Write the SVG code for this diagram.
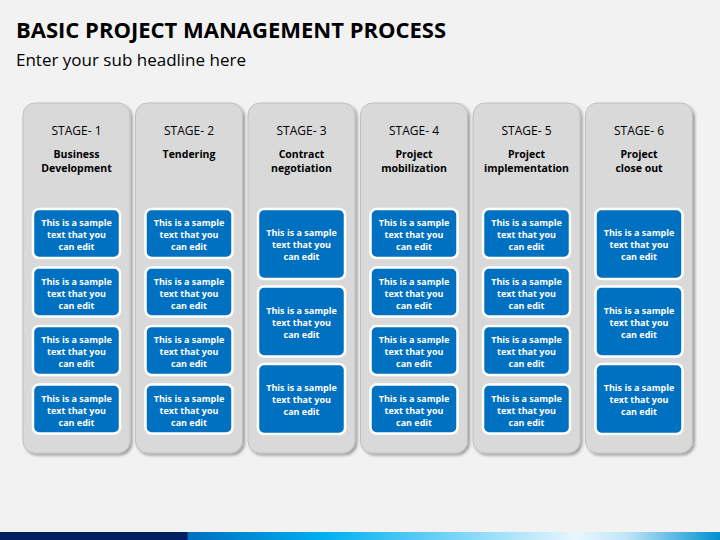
<svg xmlns="http://www.w3.org/2000/svg" width="720" height="540" viewBox="0 0 720 540">
<defs>
<style>
.col{fill:#d9d9d9;stroke:#bfbfbf;stroke-width:1}
.box{fill:#0070c0;stroke:#fff;stroke-width:2.5}
.bt{font-family:"Open Sans","Liberation Sans",sans-serif;font-size:9px;font-weight:bold;fill:#fff;text-anchor:middle}
.st{font-family:"Open Sans","Liberation Sans",sans-serif;font-size:12px;fill:#000;text-anchor:middle}
.sn{font-family:"Open Sans","Liberation Sans",sans-serif;font-size:10.5px;font-weight:bold;fill:#000;text-anchor:middle}
</style>
<filter id="sh" x="-10%" y="-5%" width="125%" height="115%"><feDropShadow dx="2" dy="2" stdDeviation="1.5" flood-color="#000" flood-opacity="0.35"/></filter>
<linearGradient id="bar" x1="0" x2="1" y1="0" y2="0">
<stop offset="0" stop-color="#002060"/><stop offset="0.26" stop-color="#002060"/><stop offset="0.261" stop-color="#0070c0"/><stop offset="0.45" stop-color="#00b0f0"/><stop offset="0.8" stop-color="#e8f6fd"/><stop offset="0.87" stop-color="#bfe6f8"/><stop offset="1" stop-color="#0090d0"/>
</linearGradient>
</defs>
<rect width="720" height="540" fill="#f2f2f2"/>
<text x="16" y="38" font-family="'Open Sans','Liberation Sans',sans-serif" font-size="22" font-weight="bold" fill="#000">BASIC PROJECT MANAGEMENT PROCESS</text>
<text x="16" y="66" font-family="'Open Sans','Liberation Sans',sans-serif" font-size="17" fill="#000">Enter your sub headline here</text>
<rect x="0" y="532" width="720" height="8" fill="url(#bar)"/>
<g id="connectors"/>
<g id="stage1">
<rect class="col" x="23" y="103" width="107" height="350" rx="12" filter="url(#sh)"/>
<text class="st" x="76.5" y="135">STAGE- 1</text>
<text class="sn" x="76.5" y="158">Business</text><text class="sn" x="76.5" y="172">Development</text>
<g><rect class="box" x="33" y="209" width="87" height="49" rx="6"/><text class="bt" x="76.5" y="226">This is a sample</text><text class="bt" x="76.5" y="238">text that you</text><text class="bt" x="76.5" y="250">can edit</text></g>
<g><rect class="box" x="33" y="267.5" width="87" height="49" rx="6"/><text class="bt" x="76.5" y="284.5">This is a sample</text><text class="bt" x="76.5" y="296.5">text that you</text><text class="bt" x="76.5" y="308.5">can edit</text></g>
<g><rect class="box" x="33" y="326" width="87" height="49" rx="6"/><text class="bt" x="76.5" y="343">This is a sample</text><text class="bt" x="76.5" y="355">text that you</text><text class="bt" x="76.5" y="367">can edit</text></g>
<g><rect class="box" x="33" y="384.5" width="87" height="49" rx="6"/><text class="bt" x="76.5" y="401.5">This is a sample</text><text class="bt" x="76.5" y="413.5">text that you</text><text class="bt" x="76.5" y="425.5">can edit</text></g>
</g>
<g id="stage2">
<rect class="col" x="135.5" y="103" width="107" height="350" rx="12" filter="url(#sh)"/>
<text class="st" x="189" y="135">STAGE- 2</text>
<text class="sn" x="189" y="158">Tendering</text>
<g><rect class="box" x="145.5" y="209" width="87" height="49" rx="6"/><text class="bt" x="189" y="226">This is a sample</text><text class="bt" x="189" y="238">text that you</text><text class="bt" x="189" y="250">can edit</text></g>
<g><rect class="box" x="145.5" y="267.5" width="87" height="49" rx="6"/><text class="bt" x="189" y="284.5">This is a sample</text><text class="bt" x="189" y="296.5">text that you</text><text class="bt" x="189" y="308.5">can edit</text></g>
<g><rect class="box" x="145.5" y="326" width="87" height="49" rx="6"/><text class="bt" x="189" y="343">This is a sample</text><text class="bt" x="189" y="355">text that you</text><text class="bt" x="189" y="367">can edit</text></g>
<g><rect class="box" x="145.5" y="384.5" width="87" height="49" rx="6"/><text class="bt" x="189" y="401.5">This is a sample</text><text class="bt" x="189" y="413.5">text that you</text><text class="bt" x="189" y="425.5">can edit</text></g>
</g>
<g id="stage3">
<rect class="col" x="248" y="103" width="107" height="350" rx="12" filter="url(#sh)"/>
<text class="st" x="301.5" y="135">STAGE- 3</text>
<text class="sn" x="301.5" y="158">Contract</text><text class="sn" x="301.5" y="172">negotiation</text>
<g><rect class="box" x="258" y="209" width="87" height="70" rx="6"/><text class="bt" x="301.5" y="236">This is a sample</text><text class="bt" x="301.5" y="248">text that you</text><text class="bt" x="301.5" y="260">can edit</text></g>
<g><rect class="box" x="258" y="286.5" width="87" height="70" rx="6"/><text class="bt" x="301.5" y="313.5">This is a sample</text><text class="bt" x="301.5" y="325.5">text that you</text><text class="bt" x="301.5" y="337.5">can edit</text></g>
<g><rect class="box" x="258" y="364" width="87" height="70" rx="6"/><text class="bt" x="301.5" y="391">This is a sample</text><text class="bt" x="301.5" y="403">text that you</text><text class="bt" x="301.5" y="415">can edit</text></g>
</g>
<g id="stage4">
<rect class="col" x="360.5" y="103" width="107" height="350" rx="12" filter="url(#sh)"/>
<text class="st" x="414" y="135">STAGE- 4</text>
<text class="sn" x="414" y="158">Project</text><text class="sn" x="414" y="172">mobilization</text>
<g><rect class="box" x="370.5" y="209" width="87" height="49" rx="6"/><text class="bt" x="414" y="226">This is a sample</text><text class="bt" x="414" y="238">text that you</text><text class="bt" x="414" y="250">can edit</text></g>
<g><rect class="box" x="370.5" y="267.5" width="87" height="49" rx="6"/><text class="bt" x="414" y="284.5">This is a sample</text><text class="bt" x="414" y="296.5">text that you</text><text class="bt" x="414" y="308.5">can edit</text></g>
<g><rect class="box" x="370.5" y="326" width="87" height="49" rx="6"/><text class="bt" x="414" y="343">This is a sample</text><text class="bt" x="414" y="355">text that you</text><text class="bt" x="414" y="367">can edit</text></g>
<g><rect class="box" x="370.5" y="384.5" width="87" height="49" rx="6"/><text class="bt" x="414" y="401.5">This is a sample</text><text class="bt" x="414" y="413.5">text that you</text><text class="bt" x="414" y="425.5">can edit</text></g>
</g>
<g id="stage5">
<rect class="col" x="473" y="103" width="107" height="350" rx="12" filter="url(#sh)"/>
<text class="st" x="526.5" y="135">STAGE- 5</text>
<text class="sn" x="526.5" y="158">Project</text><text class="sn" x="526.5" y="172">implementation</text>
<g><rect class="box" x="483" y="209" width="87" height="49" rx="6"/><text class="bt" x="526.5" y="226">This is a sample</text><text class="bt" x="526.5" y="238">text that you</text><text class="bt" x="526.5" y="250">can edit</text></g>
<g><rect class="box" x="483" y="267.5" width="87" height="49" rx="6"/><text class="bt" x="526.5" y="284.5">This is a sample</text><text class="bt" x="526.5" y="296.5">text that you</text><text class="bt" x="526.5" y="308.5">can edit</text></g>
<g><rect class="box" x="483" y="326" width="87" height="49" rx="6"/><text class="bt" x="526.5" y="343">This is a sample</text><text class="bt" x="526.5" y="355">text that you</text><text class="bt" x="526.5" y="367">can edit</text></g>
<g><rect class="box" x="483" y="384.5" width="87" height="49" rx="6"/><text class="bt" x="526.5" y="401.5">This is a sample</text><text class="bt" x="526.5" y="413.5">text that you</text><text class="bt" x="526.5" y="425.5">can edit</text></g>
</g>
<g id="stage6">
<rect class="col" x="585.5" y="103" width="107" height="350" rx="12" filter="url(#sh)"/>
<text class="st" x="639" y="135">STAGE- 6</text>
<text class="sn" x="639" y="158">Project</text><text class="sn" x="639" y="172">close out</text>
<g><rect class="box" x="595.5" y="209" width="87" height="70" rx="6"/><text class="bt" x="639" y="236">This is a sample</text><text class="bt" x="639" y="248">text that you</text><text class="bt" x="639" y="260">can edit</text></g>
<g><rect class="box" x="595.5" y="286.5" width="87" height="70" rx="6"/><text class="bt" x="639" y="313.5">This is a sample</text><text class="bt" x="639" y="325.5">text that you</text><text class="bt" x="639" y="337.5">can edit</text></g>
<g><rect class="box" x="595.5" y="364" width="87" height="70" rx="6"/><text class="bt" x="639" y="391">This is a sample</text><text class="bt" x="639" y="403">text that you</text><text class="bt" x="639" y="415">can edit</text></g>
</g>
</svg>
